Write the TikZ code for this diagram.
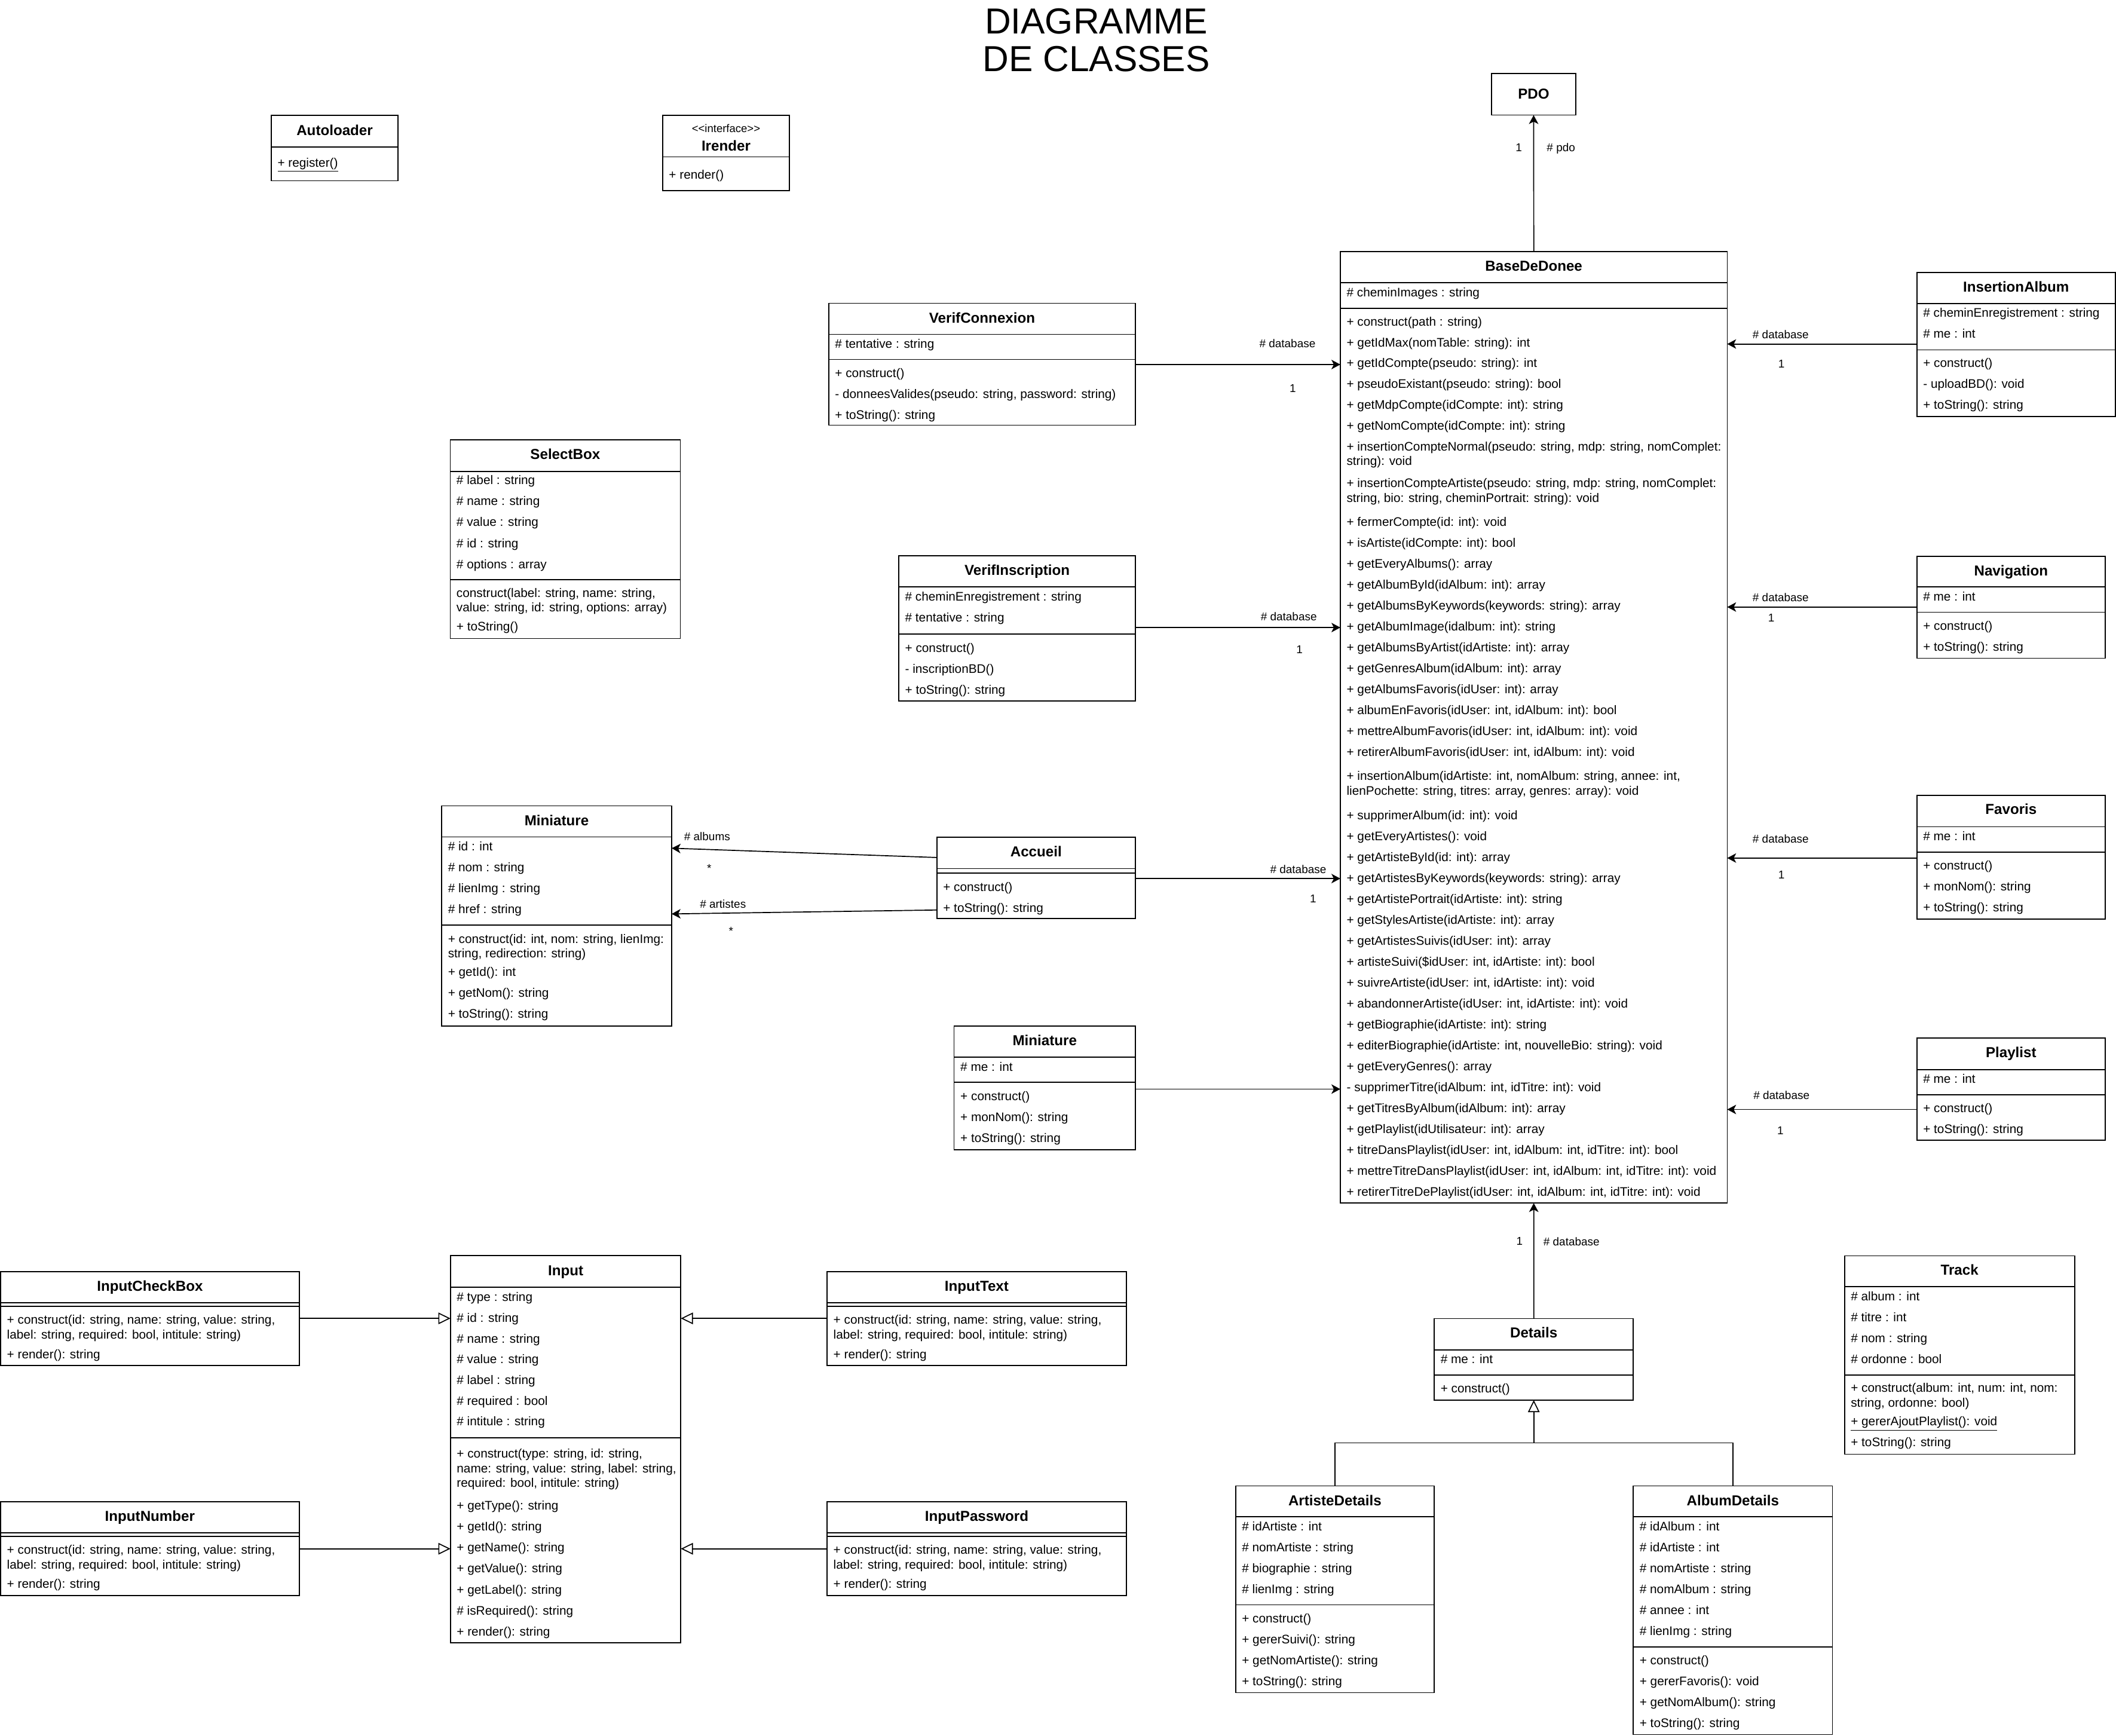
\documentclass[tikz,border=0pt]{standalone}
\usepackage{fontspec}
\setmainfont{Liberation Sans}
\usetikzlibrary{arrows.meta,fit}

% class box given by its corners (left, top, right, bottom)
\newcommand\ucls[5]{\node[clsbox, fit={(#2,#3) (#4,#5)}] (#1) {};}
% class name, centred, at a given vertical position
\newcommand\utitle[3]{\pgfmathsetmacro\yb{#2+3.8}\node[clstitle] (#1-t) at (#1.north |- 0,\yb) {#3};}
% compartment separator
\newcommand\usep[2]{\draw[sepline] (#1.west |- 0,#2) -- (#1.east |- 0,#2);}
% one member line
\newcommand\urow[4]{\pgfmathsetmacro\yb{#3+3.3}\node[rowtext, xshift=4.5pt] (#1-#2) at (#1.west |- 0,\yb) {#4};}
% a run of member lines with constant spacing
\newcommand\urows[5]{\foreach \tx [count=\ii from 0] in {#5}{%
  \pgfmathsetmacro\yb{#3+3.3+#4*\ii}%
  \node[rowtext, xshift=4.5pt] (#1-#2\ii) at (#1.west |- 0,\yb) {\tx};}}
% connector label
\newcommand\ulbl[4]{\node[lbl] (#1) at (#2,#3) {#4};}

\begin{document}
\begin{tikzpicture}[x=1pt, y=-1pt,
  clsbox/.style={draw, line width=0.75pt, fill=white, inner sep=0pt, outer sep=0pt},
  sepline/.style={line width=0.75pt},
  rowtext/.style={anchor=base west, inner sep=0pt, font=\fontsize{9.2}{11}\selectfont},
  clstitle/.style={anchor=base, inner sep=0pt, font=\bfseries\fontsize{10.7}{13}\selectfont},
  stereo/.style={anchor=base, inner sep=0pt, font=\fontsize{8.2}{10}\selectfont},
  lbl/.style={inner sep=0pt, font=\fontsize{8.4}{10}\selectfont, text height=6pt, text depth=0pt},
  bigtitle/.style={anchor=base, inner sep=0pt, font=\fontsize{26.8}{32}\selectfont},
  assoc/.style={line width=0.75pt, -{Stealth[length=6.6pt, width=7pt, inset=1.8pt]}},
  inherit/.style={line width=0.75pt, -{Triangle[open, length=9pt, width=8.6pt]}},
  plain/.style={line width=0.75pt}]

\useasboundingbox[fill=white] (0,0) rectangle (1568,1286);

% ---------- heading ----------
\node[bigtitle] (headA) at (812.4,25.1) {DIAGRAMME};
\node[bigtitle] (headB) at (812.4,53.1) {DE CLASSES};

% ---------- Autoloader ----------
\ucls{AUTO}{201}{85.6}{295}{133.9}
\utitle{AUTO}{96.7}{Autoloader}
\usep{AUTO}{108.8}
\urow{AUTO}{m0}{120.3}{\underline{+ register()}}

% ---------- Irender ----------
\ucls{IREN}{491}{85.6}{585}{141.4}
\node[stereo] (IREN-s) at (538,98.0) {<\kern0pt<interface>\kern0pt>};
\utitle{IREN}{108}{Irender}
\usep{IREN}{116.3}
\urow{IREN}{m0}{129.2}{+ render()}

% ---------- PDO ----------
\ucls{PDO}{1105.3}{54.6}{1167.6}{85.3}
\utitle{PDO}{69.6}{PDO}

% ---------- BaseDeDonee ----------
\ucls{BDD}{993.2}{186.4}{1279.9}{891.5}
\utitle{BDD}{196.8}{BaseDeDonee}
\usep{BDD}{209.3}
\urow{BDD}{a0}{216.5}{\# cheminImages : string}
\usep{BDD}{228.4}
\urows{BDD}{m}{238.1}{15.46}{{+ construct(path : string)},{+ getIdMax(nomTable: string): int},{+ getIdCompte(pseudo: string): int},{+ pseudoExistant(pseudo: string): bool},{+ getMdpCompte(idCompte: int): string},{+ getNomCompte(idCompte: int): string}}
\urow{BDD}{n1}{330.6}{+ insertionCompteNormal(pseudo: string, mdp: string, nomComplet:}
\urow{BDD}{n2}{341.4}{string): void}
\urow{BDD}{c1}{357.9}{+ insertionCompteArtiste(pseudo: string, mdp: string, nomComplet:}
\urow{BDD}{c2}{369.0}{string, bio: string, cheminPortrait: string): void}
\urows{BDD}{p}{386.5}{15.5}{{+ fermerCompte(id: int): void},{+ isArtiste(idCompte: int): bool},{+ getEveryAlbums(): array},{+ getAlbumById(idAlbum: int): array},{+ getAlbumsByKeywords(keywords: string): array},{+ getAlbumImage(idalbum: int): string},{+ getAlbumsByArtist(idArtiste: int): array},{+ getGenresAlbum(idAlbum: int): array},{+ getAlbumsFavoris(idUser: int): array},{+ albumEnFavoris(idUser: int, idAlbum: int): bool},{+ mettreAlbumFavoris(idUser: int, idAlbum: int): void},{+ retirerAlbumFavoris(idUser: int, idAlbum: int): void}}
\urow{BDD}{i1}{575.0}{+ insertionAlbum(idArtiste: int, nomAlbum: string, annee: int,}
\urow{BDD}{i2}{586.0}{lienPochette: string, titres: array, genres: array): void}
\urows{BDD}{q}{604.0}{15.5}{{+ supprimerAlbum(id: int): void},{+ getEveryArtistes(): void},{+ getArtisteById(id: int): array},{+ getArtistesByKeywords(keywords: string): array},{+ getArtistePortrait(idArtiste: int): string},{+ getStylesArtiste(idArtiste: int): array},{+ getArtistesSuivis(idUser: int): array},{+ artisteSuivi(\$idUser: int, idArtiste: int): bool},{+ suivreArtiste(idUser: int, idArtiste: int): void},{+ abandonnerArtiste(idUser: int, idArtiste: int): void},{+ getBiographie(idArtiste: int): string},{+ editerBiographie(idArtiste: int, nouvelleBio: string): void},{+ getEveryGenres(): array},{- supprimerTitre(idAlbum: int, idTitre: int): void},{+ getTitresByAlbum(idAlbum: int): array},{+ getPlaylist(idUtilisateur: int): array},{+ titreDansPlaylist(idUser: int, idAlbum: int, idTitre: int): bool},{+ mettreTitreDansPlaylist(idUser: int, idAlbum: int, idTitre: int): void},{+ retirerTitreDePlaylist(idUser: int, idAlbum: int, idTitre: int): void}}

% ---------- VerifConnexion ----------
\ucls{VC}{614.1}{224.7}{841.4}{315.0}
\utitle{VC}{235.4}{VerifConnexion}
\usep{VC}{247.7}
\urow{VC}{a0}{254.6}{\# tentative : string}
\usep{VC}{266.4}
\urows{VC}{m}{276.2}{15.5}{{+ construct()},{- donneesValides(pseudo: string, password: string)},{+ toString(): string}}

% ---------- VerifInscription ----------
\ucls{VI}{666}{411.8}{841.4}{519.5}
\utitle{VI}{422.4}{VerifInscription}
\usep{VI}{434.9}
\urows{VI}{a}{441.9}{15.5}{{\# cheminEnregistrement : string},{\# tentative : string}}
\usep{VI}{469.9}
\urows{VI}{m}{479.9}{15.5}{{+ construct()},{- inscriptionBD()},{+ toString(): string}}

% ---------- SelectBox ----------
\ucls{SB}{333.6}{325.8}{504.1}{473.1}
\utitle{SB}{336.5}{SelectBox}
\usep{SB}{349.4}
\urows{SB}{a}{355.4}{15.65}{{\# label : string},{\# name : string},{\# value : string},{\# id : string},{\# options : array}}
\usep{SB}{429.5}
\urow{SB}{m0}{439.1}{construct(label: string, name: string,}
\urow{SB}{m0b}{449.7}{value: string, id: string, options: array)}
\urow{SB}{m1}{464.2}{+ toString()}

% ---------- Miniature (thumbnail) ----------
\ucls{MIN}{327.3}{597.1}{497.7}{760.2}
\utitle{MIN}{608.1}{Miniature}
\usep{MIN}{620.2}
\urows{MIN}{a}{627.0}{15.5}{{\# id : int},{\# nom : string},{\# lienImg : string},{\# href : string}}
\usep{MIN}{685.6}
\urow{MIN}{m0}{695.5}{+ construct(id: int, nom: string, lienImg:}
\urow{MIN}{m0b}{706.3}{string, redirection: string)}
\urows{MIN}{m}{720.0}{15.5}{{+ getId(): int},{+ getNom(): string},{+ toString(): string}}

% ---------- Accueil ----------
\ucls{ACC}{694.2}{620.4}{841.3}{680.7}
\utitle{ACC}{631.0}{Accueil}
\usep{ACC}{643.6}
\usep{ACC}{646.8}
\urows{ACC}{m}{657.1}{15.5}{{+ construct()},{+ toString(): string}}

% ---------- Miniature (page) ----------
\ucls{MIN2}{707}{760.2}{841.3}{852.0}
\utitle{MIN2}{770.8}{Miniature}
\usep{MIN2}{783.4}
\urow{MIN2}{a0}{790.4}{\# me : int}
\usep{MIN2}{802.0}
\urows{MIN2}{m}{812.1}{15.5}{{+ construct()},{+ monNom(): string},{+ toString(): string}}

% ---------- InsertionAlbum ----------
\ucls{IA}{1420.4}{201.9}{1567.5}{308.7}
\utitle{IA}{212.5}{InsertionAlbum}
\usep{IA}{225.0}
\urows{IA}{a}{231.6}{15.6}{{\# cheminEnregistrement : string},{\# me : int}}
\usep{IA}{259.2}
\urows{IA}{m}{269.0}{15.5}{{+ construct()},{- uploadBD(): void},{+ toString(): string}}

% ---------- Navigation ----------
\ucls{NAV}{1420.4}{412.2}{1560}{487.7}
\utitle{NAV}{422.7}{Navigation}
\usep{NAV}{434.9}
\urow{NAV}{a0}{442.0}{\# me : int}
\usep{NAV}{453.7}
\urows{NAV}{m}{463.7}{15.4}{{+ construct()},{+ toString(): string}}

% ---------- Favoris ----------
\ucls{FAV}{1420.4}{589.4}{1560}{681.0}
\utitle{FAV}{599.7}{Favoris}
\usep{FAV}{612.6}
\urow{FAV}{a0}{619.5}{\# me : int}
\usep{FAV}{631.4}
\urows{FAV}{m}{641.4}{15.3}{{+ construct()},{+ monNom(): string},{+ toString(): string}}

% ---------- Playlist ----------
\ucls{PL}{1420.4}{769.2}{1560}{844.8}
\utitle{PL}{779.7}{Playlist}
\usep{PL}{792.5}
\urow{PL}{a0}{799.3}{\# me : int}
\usep{PL}{811.2}
\urows{PL}{m}{821.2}{15.2}{{+ construct()},{+ toString(): string}}

% ---------- Track ----------
\ucls{TR}{1366.8}{930.6}{1537.3}{1077.5}
\utitle{TR}{941.0}{Track}
\usep{TR}{953.5}
\urows{TR}{a}{960.5}{15.5}{{\# album : int},{\# titre : int},{\# nom : string},{\# ordonne : bool}}
\usep{TR}{1018.8}
\urow{TR}{m0}{1028.1}{+ construct(album: int, num: int, nom:}
\urow{TR}{m0b}{1039.1}{string, ordonne: bool)}
\urow{TR}{m1}{1053.2}{\underline{+ gererAjoutPlaylist(): void}}
\urow{TR}{m2}{1068.6}{+ toString(): string}

% ---------- Details ----------
\ucls{DET}{1062.8}{977.0}{1210.3}{1037.4}
\utitle{DET}{987.6}{Details}
\usep{DET}{1000.2}
\urow{DET}{a0}{1006.9}{\# me : int}
\usep{DET}{1018.8}
\urow{DET}{m0}{1028.6}{+ construct()}

% ---------- ArtisteDetails ----------
\ucls{ART}{915.6}{1101.1}{1062.8}{1254.2}
\utitle{ART}{1111.7}{ArtisteDetails}
\usep{ART}{1123.8}
\urows{ART}{a}{1130.8}{15.5}{{\# idArtiste : int},{\# nomArtiste : string},{\# biographie : string},{\# lienImg : string}}
\usep{ART}{1189.1}
\urows{ART}{m}{1199.2}{15.5}{{+ construct()},{+ gererSuivi(): string},{+ getNomArtiste(): string},{+ toString(): string}}

% ---------- AlbumDetails ----------
\ucls{ALB}{1210.3}{1101.1}{1357.8}{1285.2}
\utitle{ALB}{1111.7}{AlbumDetails}
\usep{ALB}{1123.8}
\urows{ALB}{a}{1130.8}{15.5}{{\# idAlbum : int},{\# idArtiste : int},{\# nomArtiste : string},{\# nomAlbum : string},{\# annee : int},{\# lienImg : string}}
\usep{ALB}{1220.4}
\urows{ALB}{m}{1230.2}{15.5}{{+ construct()},{+ gererFavoris(): void},{+ getNomAlbum(): string},{+ toString(): string}}

% ---------- Input ----------
\ucls{INP}{333.8}{930.3}{504.5}{1217.4}
\utitle{INP}{941.2}{Input}
\usep{INP}{953.7}
\urows{INP}{a}{961.0}{15.37}{{\# type : string},{\# id : string},{\# name : string},{\# value : string},{\# label : string},{\# required : bool},{\# intitule : string}}
\usep{INP}{1065.3}
\urow{INP}{c1}{1076.8}{+ construct(type: string, id: string,}
\urow{INP}{c2}{1087.8}{name: string, value: string, label: string,}
\urow{INP}{c3}{1098.8}{required: bool, intitule: string)}
\urows{INP}{m}{1115.6}{15.52}{{+ getType(): string},{+ getId(): string},{+ getName(): string},{+ getValue(): string},{+ getLabel(): string},{\# isRequired(): string},{+ render(): string}}

% ---------- Input subclasses ----------
\ucls{ICB}{0.5}{942.2}{221.7}{1011.9}
\utitle{ICB}{952.9}{InputCheckBox}
\usep{ICB}{965.2}
\usep{ICB}{968.1}
\urow{ICB}{m0}{977.9}{+ construct(id: string, name: string, value: string,}
\urow{ICB}{m0b}{988.9}{label: string, required: bool, intitule: string)}
\urow{ICB}{m1}{1003.3}{+ render(): string}

\ucls{ITX}{612.9}{942.2}{834.6}{1011.9}
\utitle{ITX}{952.9}{InputText}
\usep{ITX}{965.2}
\usep{ITX}{968.1}
\urow{ITX}{m0}{977.9}{+ construct(id: string, name: string, value: string,}
\urow{ITX}{m0b}{988.9}{label: string, required: bool, intitule: string)}
\urow{ITX}{m1}{1003.3}{+ render(): string}

\ucls{INU}{0.5}{1112.7}{221.7}{1182.4}
\utitle{INU}{1123.3}{InputNumber}
\usep{INU}{1135.8}
\usep{INU}{1138.6}
\urow{INU}{m0}{1148.2}{+ construct(id: string, name: string, value: string,}
\urow{INU}{m0b}{1159.2}{label: string, required: bool, intitule: string)}
\urow{INU}{m1}{1173.6}{+ render(): string}

\ucls{IPW}{612.9}{1112.7}{834.6}{1182.4}
\utitle{IPW}{1123.3}{InputPassword}
\usep{IPW}{1135.8}
\usep{IPW}{1138.6}
\urow{IPW}{m0}{1148.2}{+ construct(id: string, name: string, value: string,}
\urow{IPW}{m0b}{1159.2}{label: string, required: bool, intitule: string)}
\urow{IPW}{m1}{1173.6}{+ render(): string}

% ---------- associations ----------
\draw[assoc] (BDD.north) -- (PDO.south);
\ulbl{lPdo1}{1125.5}{109.2}{1}
\ulbl{lPdo2}{1156.7}{109.2}{\# pdo}

\draw[assoc] (VC.east |- 0,270.1) -- (BDD.west |- 0,270.1);
\ulbl{lVc1}{954}{254.6}{\# database}
\ulbl{lVc2}{958}{287.8}{1}

\draw[assoc] (VI.east |- 0,465) -- (BDD.west |- 0,465);
\ulbl{lVi1}{955}{457}{\# database}
\ulbl{lVi2}{963}{481}{1}

\draw[assoc] (ACC.east |- 0,651) -- (BDD.west |- 0,651);
\ulbl{lAcc1}{962}{644}{\# database}
\ulbl{lAcc2}{973}{666}{1}

\draw[assoc] (MIN2.east |- 0,807) -- (BDD.west |- 0,807);

\draw[assoc] (ACC.west |- 0,635.4) -- (MIN.east |- 0,628.5);
\ulbl{lAlb1}{524}{619.9}{\# albums}
\ulbl{lAlb2}{525.5}{643.2}{*}
\draw[assoc] (ACC.west |- 0,674.3) -- (MIN.east |- 0,677.2);
\ulbl{lArt1}{535.7}{669.8}{\# artistes}
\ulbl{lArt2}{541.7}{689.7}{*}

\draw[assoc] (IA.west |- 0,254.9) -- (BDD.east |- 0,254.9);
\ulbl{lIa1}{1319.5}{247.7}{\# database}
\ulbl{lIa2}{1320.1}{269.4}{1}

\draw[assoc] (NAV.west |- 0,449.8) -- (BDD.east |- 0,449.8);
\ulbl{lNav1}{1319.5}{442.5}{\# database}
\ulbl{lNav2}{1312.6}{457.9}{1}

\draw[assoc] (FAV.west |- 0,635.8) -- (BDD.east |- 0,635.8);
\ulbl{lFav1}{1319.5}{621.6}{\# database}
\ulbl{lFav2}{1320.1}{648.0}{1}

\draw[assoc] (PL.west |- 0,822.1) -- (BDD.east |- 0,822.1);
\ulbl{lPl1}{1320.1}{811.5}{\# database}
\ulbl{lPl2}{1319.3}{837.5}{1}

\draw[assoc] (DET.north) -- (BDD.south);
\ulbl{lDet1}{1126}{919.4}{1}
\ulbl{lDet2}{1164.5}{919.9}{\# database}

% ---------- generalisations ----------
\draw[plain] (ART.north) |- (ALB.north |- 0,1069.1) -- (ALB.north);
\draw[inherit] (DET.south |- 0,1069.1) -- (DET.south);

\draw[inherit] (ICB.east |- 0,976.9) -- (INP.west |- 0,976.9);
\draw[inherit] (ITX.west |- 0,976.9) -- (INP.east |- 0,976.9);
\draw[inherit] (INU.east |- 0,1147.6) -- (INP.west |- 0,1147.6);
\draw[inherit] (IPW.west |- 0,1147.6) -- (INP.east |- 0,1147.6);

\end{tikzpicture}
\end{document}
